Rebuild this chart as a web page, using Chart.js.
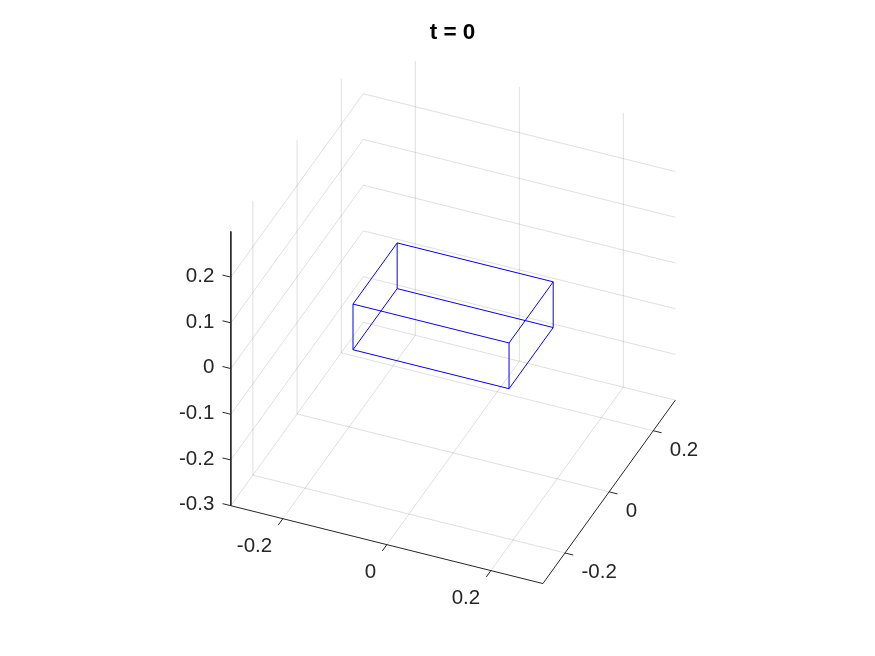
<!DOCTYPE html>
<html>
<head>
<meta charset="utf-8">
<title>t = 0</title>
<script src="https://cdn.jsdelivr.net/npm/chart.js@4"></script>
<style>
    html, body { margin: 0; padding: 0; background: #fff; }
    canvas { display: block; }
</style>
</head>
<body>
<canvas id="box-chart" width="875" height="656"></canvas>
<script>
// Axis limits
const xLimits = [-0.3, 0.3];
const yLimits = [-0.3, 0.3];
const zLimits = [-0.3, 0.3];

// Tick values and labels
const xTicks = [-0.2, 0, 0.2];
const xTickLabels = ["-0.2", "0", "0.2"];
const yTicks = [-0.2, 0, 0.2];
const yTickLabels = ["-0.2", "0", "0.2"];
const zTicks = [-0.3, -0.2, -0.1, 0, 0.1, 0.2];
const zTickLabels = ["-0.3", "-0.2", "-0.1", "0", "0.1", "0.2"];

// Box extents
const boxX = [-0.15, 0.15];
const boxY = [-0.1, 0.1];
const boxZ = [-0.05, 0.05];

// Camera, same idea as view(az, el)
const azimuth = 23 * Math.PI / 180;
const elevation = 36 * Math.PI / 180;

function project(x, y, z) {
    return {
        x: x * Math.cos(azimuth) + y * Math.sin(azimuth),
        y: z * Math.cos(elevation) + Math.sin(elevation) * (y * Math.cos(azimuth) - x * Math.sin(azimuth))
    };
}

// Joins 3D polylines into one dataset, NaN breaks the line between them
function toPath(lines) {
    const points = [];
    lines.forEach(function (line) {
        line.forEach(function (p) {
            points.push(project(p[0], p[1], p[2]));
        });
        points.push({ x: NaN, y: NaN });
    });
    return points;
}

const xMin = xLimits[0], xMax = xLimits[1];
const yMin = yLimits[0], yMax = yLimits[1];
const zMin = zLimits[0], zMax = zLimits[1];

const gridLines = [];
xTicks.forEach(function (t) {
    gridLines.push([[t, yMin, zMin], [t, yMax, zMin], [t, yMax, zMax]]);
});
yTicks.forEach(function (t) {
    gridLines.push([[xMax, t, zMin], [xMin, t, zMin], [xMin, t, zMax]]);
});
zTicks.forEach(function (t) {
    gridLines.push([[xMin, yMin, t], [xMin, yMax, t], [xMax, yMax, t]]);
});

const axisLines = [
    [[xMin, yMin, zMax], [xMin, yMin, zMin], [xMax, yMin, zMin], [xMax, yMax, zMin]]
];
xTicks.forEach(function (t) {
    axisLines.push([[t, yMin, zMin], [t, yMin - 0.021, zMin]]);
});
yTicks.forEach(function (t) {
    axisLines.push([[xMax, t, zMin], [xMax + 0.016, t, zMin]]);
});
zTicks.forEach(function (t) {
    axisLines.push([[xMin, yMin, t], [xMin - 0.016, yMin, t]]);
});

const bx0 = boxX[0], bx1 = boxX[1], by0 = boxY[0], by1 = boxY[1], bz0 = boxZ[0], bz1 = boxZ[1];
const boxLines = [
    [[bx0, by0, bz0], [bx1, by0, bz0], [bx1, by1, bz0], [bx0, by1, bz0], [bx0, by0, bz0]],
    [[bx0, by0, bz1], [bx1, by0, bz1], [bx1, by1, bz1], [bx0, by1, bz1], [bx0, by0, bz1]],
    [[bx0, by0, bz0], [bx0, by0, bz1]],
    [[bx1, by0, bz0], [bx1, by0, bz1]],
    [[bx1, by1, bz0], [bx1, by1, bz1]],
    [[bx0, by1, bz0], [bx0, by1, bz1]]
];

// Tick labels sit next to the 3D axes, so the normal scale ticks can't draw them
const tickLabelPlugin = {
    id: 'tickLabels',
    afterDatasetsDraw(chart) {
        const ctx = chart.ctx;
        const sx = chart.scales.x, sy = chart.scales.y;

        function put(text, p, dx, dy, align) {
            ctx.textAlign = align;
            ctx.fillText(text, sx.getPixelForValue(p.x) + dx, sy.getPixelForValue(p.y) + dy);
        }

        ctx.save();
        ctx.font = '20.5px "Liberation Sans"';
        ctx.fillStyle = '#262626';
        ctx.textBaseline = 'middle';
        xTicks.forEach(function (t, i) {
            put(xTickLabels[i], project(t, yMin, zMin), -10.7, 28, 'right');
        });
        yTicks.forEach(function (t, i) {
            put(yTickLabels[i], project(xMax, t, zMin), 16.5, 19.3, 'left');
        });
        zTicks.forEach(function (t, i) {
            put(zTickLabels[i], project(xMin, yMin, t), -16.5, -1, 'right');
        });
        ctx.restore();
    }
};

// 565 px per data unit, origin lands at pixel (453.1, 315.8)
const pxPerUnit = 565;
const areaLeft = 30, areaTop = 50.4;

new Chart(document.getElementById("box-chart"), {
    type: 'scatter',
    data: {
        datasets: [
            {
                data: toPath(gridLines),
                showLine: true,
                borderColor: 'rgba(38, 38, 38, 0.15)',
                borderWidth: 1,
                pointRadius: 0
            },
            {
                data: toPath(axisLines),
                showLine: true,
                borderColor: '#262626',
                borderWidth: 1,
                pointRadius: 0
            },
            {
                data: toPath(boxLines),
                showLine: true,
                borderColor: '#0000ff',
                borderWidth: 1,
                pointRadius: 0
            }
        ]
    },
    options: {
        responsive: false,
        animation: false,
        layout: { padding: { left: areaLeft, top: 0, right: 0, bottom: 0 } },
        plugins: {
            legend: { display: false },
            tooltip: { enabled: false },
            title: {
                display: true,
                text: 't = 0',
                color: '#000000',
                font: { family: '"Liberation Sans"', size: 22.5, weight: 'bold' },
                padding: { top: 19, bottom: 4.4 }
            }
        },
        scales: {
            x: {
                type: 'linear',
                display: false,
                min: (areaLeft - 453.1) / pxPerUnit,
                max: (875 - 453.1) / pxPerUnit
            },
            y: {
                type: 'linear',
                display: false,
                min: (315.8 - 656) / pxPerUnit,
                max: (315.8 - areaTop) / pxPerUnit
            }
        }
    },
    plugins: [tickLabelPlugin]
});
</script>
</body>
</html>
